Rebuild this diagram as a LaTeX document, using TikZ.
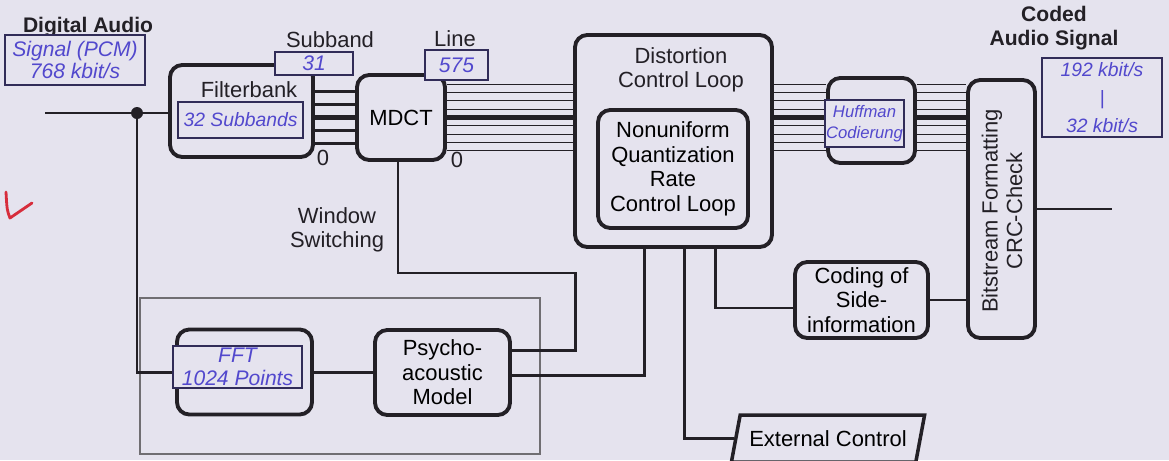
\documentclass[tikz,border=0pt]{standalone}
\usepackage{fontspec}
\setmainfont{Liberation Sans}
\usetikzlibrary{calc,shapes.geometric}
\newdimen\pxu \pxu=0.02cm
\definecolor{paper}{RGB}{229,227,238}
\definecolor{ink}{RGB}{35,32,38}
\definecolor{pen}{RGB}{82,72,205}
\definecolor{tick}{RGB}{215,45,60}
\tikzset{
  block/.style={draw=ink, line width=2.2pt, rounded corners=7pt, fill=paper, align=center, inner sep=0pt},
  note/.style={draw=ink!70!pen, line width=0.6pt, fill=paper, text=pen, align=center, inner sep=0pt,
    font=\itshape\fontsize{12}{13}\selectfont},
  lbl/.style={text=ink, align=center, inner sep=0pt},
  wire/.style={draw=ink, line width=1.7pt},
  busline/.style={draw=ink, line width=0.9pt},
  busmain/.style={draw=ink, line width=3.4pt},
}
\def\bus[#1](#2)(#3)#4{%
  \foreach \o in {#4}
    \draw[#1] ($(#2.east |- busy)+(0,\o)$) -- ($(#3.west |- busy)+(0,\o)$);
  \draw[busmain] (#2.east |- busy) -- (#3.west |- busy);}

\begin{document}
\begin{tikzpicture}[x=0.02cm, y=-0.02cm, font=\fontsize{12.5}{14}\selectfont]
		%%%%% START %%%%%
		\useasboundingbox (0,0) rectangle (1169,460);
		\clip (0,0) rectangle (1169,460);
		\fill[paper] (0,0) rectangle (1169,460);
		
		\draw[draw=ink!65, line width=0.6pt] (140,298) rectangle (540,454);
		
		\node[block, minimum width=143\pxu, minimum height=92\pxu] (filt) at (241.5,111) {};
		\node[lbl] (filtlbl) at (249,90) {Filterbank};
		\node[block, minimum width=88\pxu, minimum height=85\pxu] (mdct) at (401,117.5) {MDCT};
		\node[block, minimum width=197\pxu, minimum height=212\pxu] (dist) at (673.5,141) {};
		\node[lbl] (distlbl) at (681,70) {Distortion\\Control Loop};
		\node[block, minimum width=150\pxu, minimum height=118\pxu] (quant) at (673,169) {Nonuniform\\Quantization\\Rate\\Control Loop};
		\node[block, minimum width=87\pxu, minimum height=85\pxu] (huff) at (871.5,120.5) {};
		\node[block, minimum width=67\pxu, minimum height=258\pxu] (bits) at (1001.5,209) {};
		\node[lbl, rotate=90] (bitslbl) at (1002,211) {Bitstream Formatting\\CRC-Check};
		\node[block, minimum width=133\pxu, minimum height=76\pxu] (side) at (861.5,300) {Coding of\\Side-\\information};
		\node[block, minimum width=135\pxu, minimum height=85\pxu] (fft) at (244.5,372) {};
		\node[block, minimum width=135\pxu, minimum height=85\pxu] (psy) at (442.5,372.5) {Psycho-\\acoustic\\Model};
		\node[trapezium, draw=ink, line width=2pt, fill=paper, trapezium left angle=64, trapezium right angle=116,
		  trapezium stretches=true, minimum width=194\pxu, minimum height=47\pxu, inner sep=0pt] (ext) at (828,438.5) {External Control};
		
		%%%%% LABELS %%%%%
		\node[lbl, font=\fontsize{12}{14}\selectfont\bfseries] (inlbl) at (88,27) {Digital Audio};
		\node[lbl, font=\fontsize{12}{14}\selectfont\bfseries] (outlbl) at (1054,28) {Coded\\Audio Signal};
		\node[lbl] (sublbl) at (330,40) {Subband};
		\node[lbl] (linelbl) at (455,39) {Line};
		\node[lbl] (zeroa) at (323,158) {0};
		\node[lbl] (zerob) at (457,160) {0};
		\node[lbl] (wslbl) at (337,230) {Window\\Switching};
		
		%%%%% WIRES %%%%%
		\coordinate (in) at (45,113);
		\coordinate (split) at (137,113);
		\coordinate (ws) at (575,273);
		\coordinate (out) at (1112,209);
		\coordinate (busy) at (0,117.5);
		\draw[wire] (in) -- (in -| filt.west);
		\draw[wire] (split) |- (fft.west);
		\fill[ink] (split) circle[radius=6\pxu];
		\draw[wire] (fft.east) -- (fft.east -| psy.west);
		\draw[wire] ($(mdct.south)+(-3,0)$) |- (ws) |- ($(psy.east)+(0,-22)$);
		\draw[wire] ($(psy.east)+(0,3)$) -| ($(dist.south)+(-29,0)$);
		\draw[wire] ($(dist.south)+(11,0)$) |- (ext.west);
		\draw[wire] ($(dist.south)+(42,0)$) |- ($(side.west)+(0,8)$);
		\draw[wire] (side.east) -- (side.east -| bits.west);
		\draw[wire] (bits.east |- out) -- (out);
		
		\bus[wire](filt)(mdct){-26,-13,13,26}
		\bus[busline](mdct)(dist){-33,-25,-17,-8,8,17,25,33}
		\bus[busline](dist)(huff){-33,-25,-17,-8,8,17,25,33}
		\bus[busline](huff)(bits){-33,-25,-17,-8,8,17,25,33}
		
		%%%%% HANDWRITING %%%%%
		\node[note, minimum width=140\pxu, minimum height=50\pxu] (sig) at (75,60) {Signal (PCM)\\768 kbit/s};
		\node[note, minimum width=78\pxu, minimum height=23\pxu] (nsub) at (314,63.5) {31};
		\node[note, minimum width=63\pxu, minimum height=30\pxu] (nline) at (456.5,65) {575};
		\node[note, minimum width=125\pxu, minimum height=36\pxu, font=\itshape\fontsize{11}{13}\selectfont] (nbands) at (240.5,120) {32 Subbands};
		\node[note, minimum width=79\pxu, minimum height=47\pxu, font=\itshape\fontsize{9.5}{12}\selectfont] (nhuff) at (864.5,123.5) {Huffman\\Codierung};
		\node[note, minimum width=120\pxu, minimum height=79\pxu, font=\itshape\fontsize{11}{16}\selectfont] (nrate) at (1102,97.5) {192 kbit/s\\|\\32 kbit/s};
		\node[note, minimum width=129\pxu, minimum height=42\pxu] (nfft) at (237.5,367) {FFT\\1024 Points};
		\draw[tick, line width=1.6pt, line cap=round, line join=round] (6,192) .. controls (7,210) .. (10,218) -- (32,203);
		%%%%% END %%%%%
\end{tikzpicture}
\end{document}
